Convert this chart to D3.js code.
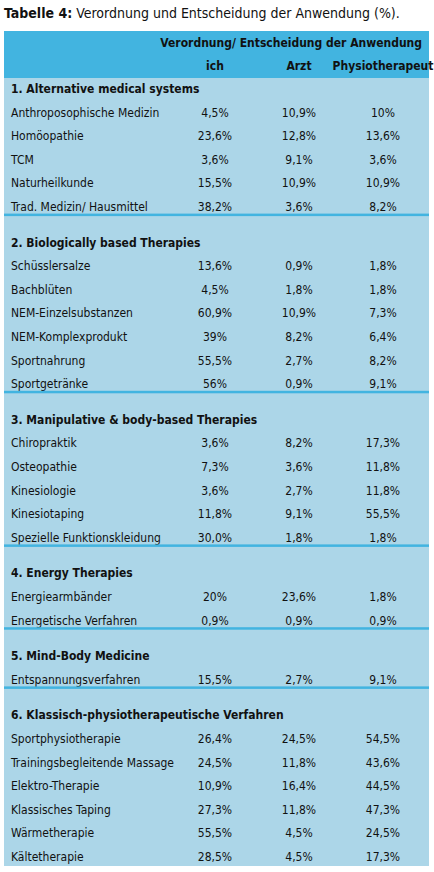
<!DOCTYPE html><html><head><meta charset="utf-8">
<script src="https://cdn.jsdelivr.net/npm/d3@7"></script>
<style>body{margin:0;background:#fff}text{font-family:"Liberation Sans Narrow","DejaVu Sans Condensed",Roboto,sans-serif}</style></head><body>
<svg id="c" width="434" height="872"></svg>
<script>
const columns=["ich","Arzt","Physiotherapeut"];
const sections=["1. Alternative medical systems","2. Biologically based Therapies","3. Manipulative & body-based Therapies","4. Energy Therapies","5. Mind-Body Medicine","6. Klassisch-physiotherapeutische Verfahren"];
const rowNames=[
["Anthroposophische Medizin","Homöopathie","TCM","Naturheilkunde","Trad. Medizin/ Hausmittel"],
["Schüsslersalze","Bachblüten","NEM-Einzelsubstanzen","NEM-Komplexprodukt","Sportnahrung","Sportgetränke"],
["Chiropraktik","Osteopathie","Kinesiologie","Kinesiotaping","Spezielle Funktionskleidung"],
["Energiearmbänder","Energetische Verfahren"],
["Entspannungsverfahren"],
["Sportphysiotherapie","Trainingsbegleitende Massage","Elektro-Therapie","Klassisches Taping","Wärmetherapie","Kältetherapie"]];
const ichValues=[["4,5%","23,6%","3,6%","15,5%","38,2%"],["13,6%","4,5%","60,9%","39%","55,5%","56%"],["3,6%","7,3%","3,6%","11,8%","30,0%"],["20%","0,9%"],["15,5%"],["26,4%","24,5%","10,9%","27,3%","55,5%","28,5%"]];
const arztValues=[["10,9%","12,8%","9,1%","10,9%","3,6%"],["0,9%","1,8%","10,9%","8,2%","2,7%","0,9%"],["8,2%","3,6%","2,7%","9,1%","1,8%"],["23,6%","0,9%"],["2,7%"],["24,5%","11,8%","16,4%","11,8%","4,5%","4,5%"]];
const physioValues=[["10%","13,6%","3,6%","10,9%","8,2%"],["1,8%","1,8%","7,3%","6,4%","8,2%","9,1%"],["17,3%","11,8%","11,8%","55,5%","1,8%"],["1,8%","0,9%"],["9,1%"],["54,5%","43,6%","44,5%","47,3%","24,5%","17,3%"]];

const svg=d3.select("#c");
const L=4,R=429,T0=31;
const x=d3.scalePoint().domain(columns).range([215,383]);
const t=svg.append("text").attr("x",4).attr("y",18).attr("font-size",14).attr("fill","#111");
t.append("tspan").attr("font-weight","bold").text("Tabelle 4:");
t.append("tspan").text(" Verordnung und Entscheidung der Anwendung (%).");
svg.append("rect").attr("x",L).attr("y",T0).attr("width",R-L).attr("height",866-T0).attr("fill","#acd6e8");
svg.append("rect").attr("x",L).attr("y",T0).attr("width",R-L).attr("height",47).attr("fill","#42b4e0");
svg.append("text").attr("x",422).attr("y",47).attr("text-anchor","end").attr("font-size",12).attr("font-weight","bold").attr("fill","#111").text("Verordnung/ Entscheidung der Anwendung");
columns.forEach(c=>svg.append("text").attr("x",x(c)).attr("y",70).attr("text-anchor","middle").attr("font-size",12).attr("font-weight","bold").attr("fill","#111").text(c));
let y=89;const rh=23.6;
sections.forEach((s,i)=>{
  if(i>0){svg.append("rect").attr("x",L).attr("y",y-17).attr("width",R-L).attr("height",2.5).attr("fill","#42b4e0");y+=12;}
  svg.append("text").attr("x",11).attr("y",y+4).attr("font-size",12).attr("font-weight","bold").attr("fill","#111").text(s);
  y+=rh;
  rowNames[i].forEach((n,j)=>{
    svg.append("text").attr("x",11).attr("y",y+4).attr("font-size",12).attr("fill","#111").text(n);
    [ichValues,arztValues,physioValues].forEach((v,k)=>svg.append("text").attr("x",x(columns[k])).attr("y",y+4).attr("text-anchor","middle").attr("font-size",12).attr("fill","#111").text(v[i][j]));
    y+=rh;
  });
});
</script></body></html>
